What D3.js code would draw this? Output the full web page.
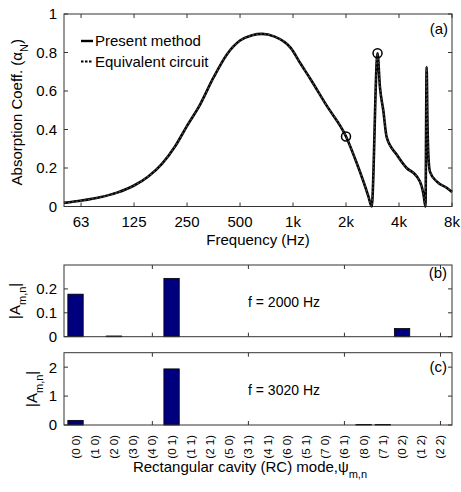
<!DOCTYPE html>
<html>
<head>
<meta charset="utf-8">
<script src="https://cdn.jsdelivr.net/npm/d3@7"></script>
<style>
  body { margin: 0; background: #fff; }
  svg text { font-family: "Liberation Sans", Arial, sans-serif; fill: #000; }
</style>
</head>
<body>
<div id="chart"></div>
<script>
// absorption curve (log frequency axis)
const freqHz = [50, 63, 80, 100, 125, 150, 180, 215, 250, 297, 353, 421, 500, 586, 668, 779, 970,
  1107, 1250, 1550, 2000, 2300, 2500, 2680, 2797, 3020, 3117, 3256, 3404, 3878, 4420, 5040,
  5380, 5530, 5654, 5742, 5800, 5877, 6000, 6545, 7460, 8000];
const alphaPresent = [0.019, 0.031, 0.048, 0.072, 0.109, 0.155, 0.222, 0.316, 0.419, 0.531, 0.669,
  0.79, 0.862, 0.89, 0.897, 0.884, 0.824, 0.74, 0.665, 0.525, 0.364, 0.226, 0.135, 0.053, 0.0,
  0.796, 0.62, 0.5, 0.36, 0.27, 0.2, 0.157, 0.105, 0.055, 0.0, 0.725, 0.45, 0.26, 0.18, 0.13,
  0.097, 0.075];
const alphaCircuit = alphaPresent.slice();
const markFreq = [2000, 3020];
const markAlpha = [0.364, 0.796];
const freqTicks = [62.5, 125, 250, 500, 1000, 2000, 4000, 8000];
const freqTickLabels = ["63", "125", "250", "500", "1k", "2k", "4k", "8k"];

// modal amplitudes
const modes = ["(0 0)", "(1 0)", "(2 0)", "(3 0)", "(4 0)", "(0 1)", "(1 1)", "(2 1)", "(5 0)", "(3 1)",
  "(4 1)", "(6 0)", "(5 1)", "(7 0)", "(6 1)", "(8 0)", "(7 1)", "(0 2)", "(1 2)", "(2 2)"];
const amp2000 = [0.178, 0, 0.003, 0, 0, 0.244, 0, 0, 0, 0, 0, 0, 0, 0, 0, 0, 0, 0.034, 0, 0];
const amp3020 = [0.16, 0, 0, 0, 0, 1.94, 0, 0, 0, 0, 0, 0, 0, 0, 0, 0.02, 0.02, 0, 0, 0];

const width = 461, height = 492;
const left = 64, right = 452;
const frameCol = "#333";
const tickLen = 4;

const svg = d3.select("#chart").append("svg")
  .attr("width", width).attr("height", height);
svg.append("rect").attr("width", width).attr("height", height).attr("fill", "#fff");

// ---- panel (a) ----
const top1 = 14, bot1 = 206.5;
const x = d3.scaleLog().domain([50, 8000]).range([left, right]);
const y = d3.scaleLinear().domain([0, 1]).range([bot1, top1]);

const gA = svg.append("g");

function drawFrame(g, t, b) {
  g.append("rect")
    .attr("x", left).attr("y", t)
    .attr("width", right - left).attr("height", b - t)
    .attr("fill", "none").attr("stroke", frameCol).attr("stroke-width", 1);
}

// ticks inward on all four sides
freqTicks.forEach((f, i) => {
  gA.append("line").attr("x1", x(f)).attr("x2", x(f)).attr("y1", bot1).attr("y2", bot1 - tickLen)
    .attr("stroke", frameCol);
  gA.append("line").attr("x1", x(f)).attr("x2", x(f)).attr("y1", top1).attr("y2", top1 + tickLen)
    .attr("stroke", frameCol);
  gA.append("text").attr("x", x(f)).attr("y", bot1 + 20)
    .attr("text-anchor", "middle").style("font-size", "15px").text(freqTickLabels[i]);
});
const yTicks = d3.range(0, 1.01, 0.2);
yTicks.forEach(v => {
  gA.append("line").attr("x1", left).attr("x2", left + tickLen).attr("y1", y(v)).attr("y2", y(v))
    .attr("stroke", frameCol);
  gA.append("line").attr("x1", right).attr("x2", right - tickLen).attr("y1", y(v)).attr("y2", y(v))
    .attr("stroke", frameCol);
  gA.append("text").attr("x", left - 7).attr("y", y(v)).attr("dy", "0.36em")
    .attr("text-anchor", "end").style("font-size", "15px")
    .text(v === 0 || v > 0.99 ? d3.format("d")(Math.round(v)) : d3.format(".1f")(v));
});
drawFrame(gA, top1, bot1);

const line = d3.line()
  .x(d => x(d[0])).y(d => y(d[1]))
  .curve(d3.curveMonotoneX);

gA.append("path")
  .datum(freqHz.map((f, i) => [f, alphaPresent[i]]))
  .attr("d", line)
  .attr("fill", "none").attr("stroke", "#000").attr("stroke-width", 2.6)
  .attr("stroke-linejoin", "round");
gA.append("path")
  .datum(freqHz.map((f, i) => [f, alphaCircuit[i]]))
  .attr("d", line)
  .attr("fill", "none").attr("stroke", "#444").attr("stroke-width", 1.4)
  .attr("stroke-dasharray", "2,2");

gA.selectAll("circle.mark")
  .data(markFreq.map((f, i) => [f, markAlpha[i]]))
  .join("circle")
  .attr("cx", d => x(d[0])).attr("cy", d => y(d[1]))
  .attr("r", 4.5).attr("fill", "none").attr("stroke", "#000").attr("stroke-width", 1.5);

// legend
gA.append("line").attr("x1", 81).attr("x2", 93).attr("y1", 41).attr("y2", 41)
  .attr("stroke", "#000").attr("stroke-width", 2.4);
gA.append("text").attr("x", 95).attr("y", 41).attr("dy", "0.36em").style("font-size", "15px")
  .text("Present method");
gA.append("line").attr("x1", 81).attr("x2", 93).attr("y1", 61.5).attr("y2", 61.5)
  .attr("stroke", "#000").attr("stroke-width", 2.2).attr("stroke-dasharray", "2.5,1.5");
gA.append("text").attr("x", 95).attr("y", 61.5).attr("dy", "0.36em").style("font-size", "15px")
  .text("Equivalent circuit");

gA.append("text").attr("x", 448).attr("y", 29).attr("dy", "0.36em").attr("text-anchor", "end")
  .style("font-size", "15px").text("(a)");

gA.append("text").attr("x", (left + right) / 2).attr("y", 245).attr("text-anchor", "middle")
  .style("font-size", "15px").text("Frequency (Hz)");

const yl = gA.append("text")
  .attr("transform", `translate(22,${(top1 + bot1) / 2 + 2}) rotate(-90)`)
  .attr("text-anchor", "middle").style("font-size", "15px");
yl.append("tspan").text("Absorption Coeff. (\u03B1");
yl.append("tspan").attr("baseline-shift", "sub").style("font-size", "11px").text("N");
yl.append("tspan").text(")");

// ---- panels (b) and (c) ----
const xb = d3.scaleBand().domain(modes).range([left, right]).padding(0.2);
const modeTicks = [4, 9, 14, 19];

function barPanel(values, t, b, maxV, ticks, fmt, label, tag, tagY, ylabX) {
  const g = svg.append("g");
  const yy = d3.scaleLinear().domain([0, maxV]).range([b, t]);
  g.selectAll("rect.bar")
    .data(values)
    .join("rect")
    .attr("x", (d, i) => xb(modes[i]))
    .attr("width", xb.bandwidth())
    .attr("y", d => yy(d))
    .attr("height", d => yy(0) - yy(d))
    .attr("fill", "#00007f").attr("stroke", "#000").attr("stroke-width", 0.8);
  modeTicks.forEach(i => {
    const cx = xb(modes[i]) + xb.bandwidth() / 2;
    g.append("line").attr("x1", cx).attr("x2", cx).attr("y1", b).attr("y2", b - tickLen).attr("stroke", frameCol);
    g.append("line").attr("x1", cx).attr("x2", cx).attr("y1", t).attr("y2", t + tickLen).attr("stroke", frameCol);
  });
  ticks.forEach(v => {
    g.append("line").attr("x1", left).attr("x2", left + tickLen).attr("y1", yy(v)).attr("y2", yy(v)).attr("stroke", frameCol);
    g.append("line").attr("x1", right).attr("x2", right - tickLen).attr("y1", yy(v)).attr("y2", yy(v)).attr("stroke", frameCol);
    g.append("text").attr("x", left - 7).attr("y", yy(v)).attr("dy", "0.36em")
      .attr("text-anchor", "end").style("font-size", "15px").text(fmt(v));
  });
  drawFrame(g, t, b);
  g.append("text").attr("x", 248).attr("y", (t + b) / 2 + 1).attr("dy", "0.36em")
    .style("font-size", "14px").text(label);
  g.append("text").attr("x", 447).attr("y", tagY).attr("dy", "0.36em").attr("text-anchor", "end")
    .style("font-size", "15px").text(tag);
  const lab = g.append("text")
    .attr("transform", `translate(${ylabX},${(t + b) / 2}) rotate(-90)`)
    .attr("text-anchor", "middle").style("font-size", "15px");
  lab.append("tspan").text("|A");
  lab.append("tspan").attr("baseline-shift", "sub").style("font-size", "11px").text("m,n");
  lab.append("tspan").text("|");
  return g;
}

barPanel(amp2000, 265, 336.7, 0.3, [0, 0.1, 0.2], v => v === 0 ? "0" : d3.format(".1f")(v),
  "f = 2000 Hz", "(b)", 273, 20);
barPanel(amp3020, 352.7, 425, 2.5, [0, 1, 2], d3.format("d"),
  "f = 3020 Hz", "(c)", 367, 37);

// rotated mode labels
svg.append("g").selectAll("text")
  .data(modes)
  .join("text")
  .attr("transform", d => `translate(${xb(d) + xb.bandwidth() / 2 + 4},435) rotate(-90)`)
  .attr("text-anchor", "end").style("font-size", "11.5px")
  .text(d => d);

const xl = svg.append("text").attr("x", 250).attr("y", 472).attr("text-anchor", "middle")
  .style("font-size", "15px");
xl.append("tspan").text("Rectangular cavity (RC) mode,\u03C8");
xl.append("tspan").attr("baseline-shift", "sub").style("font-size", "11px").text("m,n");
</script>
</body>
</html>
